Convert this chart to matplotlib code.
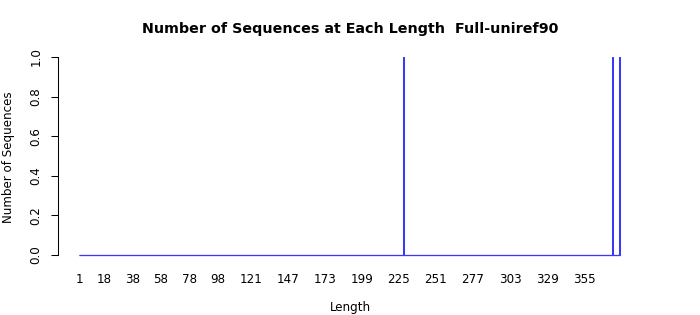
#!/usr/bin/env python3
# Histograma de longitudes (estilo barplot de R) - Full-uniref90

import numpy as np
import matplotlib
matplotlib.use("Agg")
import matplotlib.pyplot as plt

# Datos
max_length = 380
observed_lengths = [228, 375, 380]   # cada una aparece una vez
tick_labels = [1, 18, 38, 58, 78, 98, 121, 147, 173, 199, 225, 251, 277, 303, 329, 355]
yticks = [0.0, 0.2, 0.4, 0.6, 0.8, 1.0]

title = "Number of Sequences at Each Length  Full-uniref90"

BAR_FILL = "#6400cc"
BAR_EDGE = "#3a3af5"
FS = 8.6

lengths = np.arange(1, max_length + 1)
counts = np.bincount(observed_lengths, minlength=max_length + 1)[1:]

fig = plt.figure(figsize=(7.0, 3.15), dpi=100)
W, H = 700.0, 315.0
# región del plot en píxeles (izq, der, arriba, abajo)
px_l, px_r, px_t, px_b = 57.5, 642.0, 49.0, 263.0
ax = fig.add_axes([px_l / W, 1 - px_b / H, (px_r - px_l) / W, (px_b - px_t) / H])

bw = 1 / 1.2
ax.bar(lengths, counts, width=bw, color=BAR_FILL, edgecolor=BAR_EDGE,
       linewidth=0.75, align="center")
# las barras de altura 0 en R se ven como una línea continua
lo, hi = lengths[0] - bw / 2, lengths[-1] + bw / 2
ax.hlines(0, lo, hi, color=BAR_EDGE, linewidth=0.9)

# márgenes 4% como xaxs/yaxs="r"
pad = 0.04 * (hi - lo)
ax.set_xlim(lo - pad, hi + pad)
ax.set_ylim(-0.04, 1.04)

for s in ("top", "right", "bottom"):
    ax.spines[s].set_visible(False)
ax.spines["left"].set_bounds(0, 1)
ax.spines["left"].set_linewidth(0.75)

ax.set_yticks(yticks)
ax.set_yticklabels([f"{v:.1f}" for v in yticks], rotation=90, va="center", fontsize=FS)
ax.tick_params(axis="y", length=5, width=0.75, pad=5.8)

ax.set_xticks(tick_labels)
ax.set_xticklabels([str(v) for v in tick_labels], fontsize=FS)
ax.tick_params(axis="x", length=0, pad=7)

fig.text(0.5, 1 - 29 / H, title, ha="center", va="center", fontsize=10.3, fontweight="bold")
fig.text(0.5, 1 - 307 / H, "Length", ha="center", va="center", fontsize=FS)
fig.text(8.5 / W, 1 - 157 / H, "Number of Sequences", ha="center", va="center",
         rotation=90, fontsize=FS)

fig.savefig("out.png", dpi=100)
